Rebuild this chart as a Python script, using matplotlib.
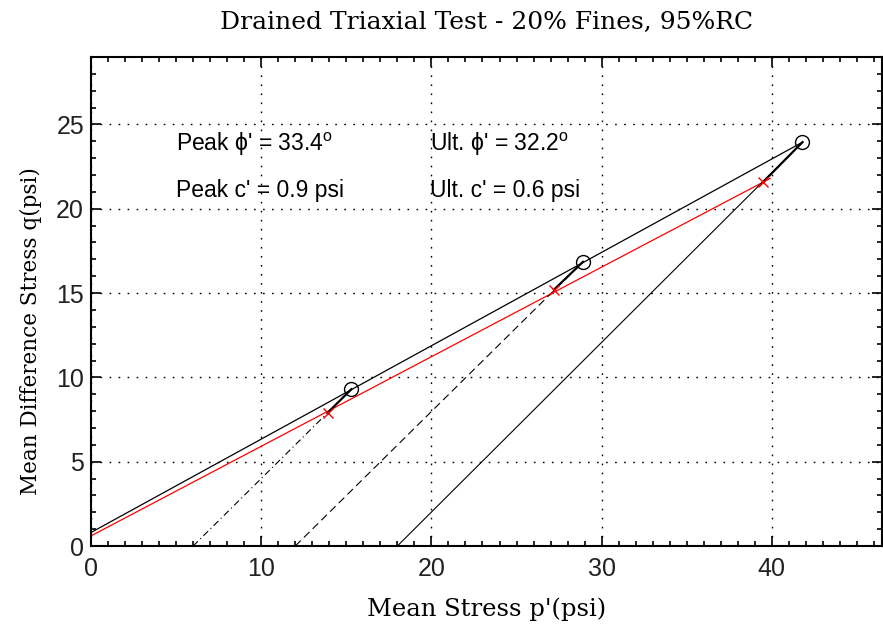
import numpy as np
import matplotlib
matplotlib.use('Agg')
import matplotlib.pyplot as plt
from matplotlib.ticker import MultipleLocator

plt.rcParams['mathtext.fontset'] = 'custom'
plt.rcParams['mathtext.rm'] = 'Liberation Sans'

# stress paths (start p', peak, ultimate) for the three confining stresses
p_start = [6.0, 12.0, 18.0]
peak_p = [15.3, 28.9, 41.8]
peak_q = [9.3, 16.85, 23.95]
ult_p = [13.9, 27.2, 39.5]
ult_q = [7.9, 15.2, 21.6]
path_styles = [(0, (6, 3, 1, 3)), (0, (7, 4)), '-']

# failure envelopes (end points)
peak_env_p = [0.0, 41.8]
peak_env_q = [0.8, 23.95]
ult_env_p = [0.0, 39.9]
ult_env_q = [0.6, 21.8]

fig = plt.figure(figsize=(8.83, 6.27), dpi=100)
ax = fig.add_axes([91 / 883, 81 / 627, 791.5 / 883, 489 / 627])

# envelopes
ax.plot(peak_env_p, peak_env_q, color='black', lw=0.9)
ax.plot(ult_env_p, ult_env_q, color='red', lw=0.9)

# stress paths
for i in range(3):
    ax.plot([p_start[i], peak_p[i]], [0, peak_q[i]], color='black', lw=0.8,
            linestyle=path_styles[i])
    ax.plot([ult_p[i], peak_p[i]], [ult_q[i], peak_q[i]], color='black', lw=1.6)

ax.plot(peak_p, peak_q, 'o', ms=10, mfc='none', mec='black', mew=1.0)
ax.plot(ult_p, ult_q, 'x', ms=7, color='red', mew=1.0)

ax.set_xlim(0, 46.5)
ax.set_ylim(0, 29.0)
ax.xaxis.set_major_locator(MultipleLocator(10))
ax.xaxis.set_minor_locator(MultipleLocator(1))
ax.yaxis.set_major_locator(MultipleLocator(5))
ax.yaxis.set_minor_locator(MultipleLocator(1))
ax.tick_params(which='both', direction='in', top=True, right=True, width=1.2,
               labelsize=18, labelcolor='#222222')
ax.tick_params(axis='x', pad=8)
ax.tick_params(axis='y', pad=5)
ax.tick_params(which='major', length=7)
ax.tick_params(which='minor', length=3.5)
for lab in ax.get_xticklabels() + ax.get_yticklabels():
    lab.set_family('Liberation Sans')
for s in ax.spines.values():
    s.set_linewidth(1.5)

ax.grid(True, which='major', color='black', linestyle=(0, (1.2, 5.3)), lw=1.0)

fam = ['Liberation Sans', 'DejaVu Sans']
ax.text(5.0, 23.8, "Peak \u03d5' = 33.4$^\\mathrm{o}$", fontsize=16.5,
        family=fam, va='center')
ax.text(5.0, 21.1, "Peak c' = 0.9 psi", fontsize=16.5, family=fam, va='center')
ax.text(19.9, 23.8, "Ult. \u03d5' = 32.2$^\\mathrm{o}$", fontsize=16.5,
        family=fam, va='center')
ax.text(19.9, 21.1, "Ult. c' = 0.6 psi", fontsize=16.5, family=fam, va='center')

ax.set_title('Drained Triaxial Test - 20% Fines, 95%RC', fontsize=18,
             family='DejaVu Serif', pad=20)
ax.set_xlabel("Mean Stress p'(psi)", fontsize=17.5, family='DejaVu Serif')
ax.set_ylabel("Mean Difference Stress q(psi)", fontsize=15.5, family='DejaVu Serif')
ax.yaxis.set_label_coords(-0.062, 0.44)
ax.xaxis.set_label_coords(0.5, -0.105)

fig.savefig('out.png', dpi=100)
